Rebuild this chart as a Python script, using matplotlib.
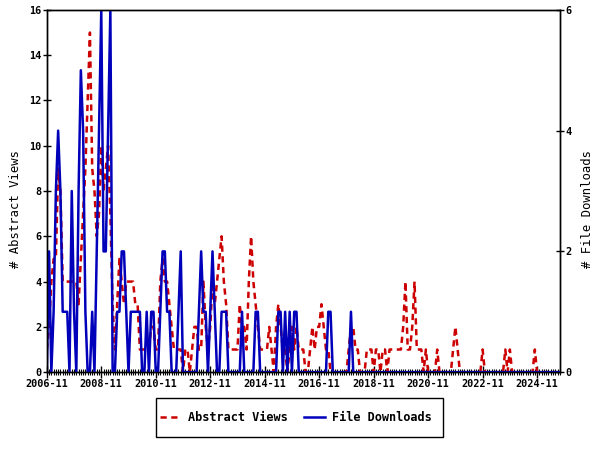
import matplotlib
matplotlib.use("Agg")
import matplotlib.pyplot as plt
from matplotlib.patches import Rectangle
import numpy as np

# Monthly values starting 2006-11
views = [1, 2, 4, 5, 5, 9, 8, 4, 4, 4, 4, 4, 4, 4, 3, 5, 7, 9, 12, 15,
         9, 8, 6, 7, 10, 8, 9, 10, 7, 3, 1, 3, 5, 4, 3, 4, 4, 4, 4, 3,
         3, 1, 1, 1, 1, 1, 2, 2, 1, 1, 4, 5, 4, 4, 3, 2, 1, 1, 1, 1,
         0, 1, 1, 0, 1, 2, 2, 1, 1, 4, 2, 1, 2, 4, 3, 4, 5, 6, 4, 3,
         1, 1, 1, 1, 1, 3, 2, 2, 1, 4, 6, 4, 3, 2, 1, 1, 1, 1, 2, 1,
         0, 2, 3, 2, 1, 1, 0, 1, 2, 1, 2, 1, 1, 1, 0, 0, 1, 2, 1, 2,
         2, 3, 2, 1, 1, 0, 0, 0, 0, 0, 0, 0, 0, 1, 2, 2, 1, 1, 0, 0,
         0, 1, 1, 1, 0, 1, 1, 0, 1, 1, 0, 1, 1, 1, 1, 1, 1, 2, 4, 1,
         1, 2, 4, 1, 1, 1, 0, 1, 0, 0, 0, 0, 1, 0, 0, 0, 0, 0, 0, 1,
         2, 1, 0, 0, 0, 0, 0, 0, 0, 0, 0, 0, 1, 0, 0, 0, 0, 0, 0, 0,
         0, 0, 1, 0, 1, 0, 0, 0, 0, 0, 0, 0, 0, 0, 0, 1, 0, 0, 0, 0,
         0, 0, 0, 0, 0, 0, 0]

downloads = [0, 2, 0, 1, 3, 4, 3, 1, 1, 1, 0, 3, 1, 0, 3, 5, 4, 1, 0, 0,
             1, 0, 2, 4, 6, 2, 2, 4, 6, 0, 0, 1, 1, 2, 2, 1, 0, 1, 1, 1,
             1, 1, 0, 0, 1, 0, 1, 1, 0, 0, 1, 2, 2, 1, 1, 0, 0, 0, 1, 2,
             0, 0, 0, 0, 0, 0, 0, 1, 2, 1, 1, 0, 1, 2, 1, 0, 0, 1, 1, 1,
             0, 0, 0, 0, 0, 0, 1, 0, 0, 0, 0, 0, 1, 1, 0, 0, 0, 0, 0, 0,
             0, 0, 1, 1, 0, 1, 0, 1, 0, 1, 1, 0, 0, 0, 0, 0, 0, 0, 0, 0,
             0, 0, 0, 0, 1, 1, 0, 0, 0, 0, 0, 0, 0, 0, 1, 0, 0, 0, 0, 0,
             0, 0, 0, 0, 0, 0, 0, 0, 0, 0, 0, 0, 0, 0, 0, 0, 0, 0, 0, 0,
             0, 0, 0, 0, 0, 0, 0, 0, 0, 0, 0, 0, 0, 0, 0, 0, 0, 0, 0, 0,
             0, 0, 0, 0, 0, 0, 0, 0, 0, 0, 0, 0, 0, 0, 0, 0, 0, 0, 0, 0,
             0, 0, 0, 0, 0, 0, 0, 0, 0, 0, 0, 0, 0, 0, 0, 0, 0, 0, 0, 0,
             0, 0, 0, 0, 0, 0, 0]

tick_labels = ["2006-11", "2008-11", "2010-11", "2012-11", "2014-11",
               "2016-11", "2018-11", "2020-11", "2022-11", "2024-11"]

plt.rcParams['font.family'] = ['DejaVu Sans Mono']
plt.rcParams['font.weight'] = 'bold'

fig = plt.figure(figsize=(6, 4.5), dpi=100)
ax = fig.add_axes([0.078, 0.173, 0.855, 0.805])
ax2 = ax.twinx()

x = np.arange(len(views))
red = '#CC0000'
blue = '#0000BB'

l1, = ax.plot(x, views, color=red, lw=1.8, linestyle=(0, (2.5, 1.8)),
              label='Abstract Views')
l2, = ax2.plot(x, downloads, color=blue, lw=1.8, label='File Downloads')

ax.set_xlim(0, 226)
ax.set_ylim(0, 16)
ax2.set_ylim(0, 6)
ax.set_yticks(range(0, 17, 2))
ax2.set_yticks(range(0, 7, 2))
ax.set_xticks(np.arange(len(tick_labels)) * 24)
ax.set_xticklabels(tick_labels)
ax.set_xticks(np.arange(0, 227, 1), minor=True)

for a in (ax, ax2):
    for s in a.spines.values():
        s.set_linewidth(1.0)
        s.set_color('black')

ax.tick_params(axis='x', which='major', direction='inout', length=8, width=1,
               labelsize=7.3, pad=1)
ax.tick_params(axis='x', which='minor', direction='inout', length=4, width=0.8)
ax.tick_params(axis='y', direction='inout', length=6, width=1, labelsize=7.3, pad=1)
ax2.tick_params(axis='y', direction='inout', length=6, width=1, labelsize=7.3, pad=1)

ax.set_ylabel('# Abstract Views', fontsize=8.8)
ax2.set_ylabel('# File Downloads', fontsize=8.8)
ax.yaxis.set_label_coords(-0.048, 0.45)
ax2.yaxis.set_label_coords(1.042, 0.45)

leg = fig.legend(handles=[l1, l2], loc='center', bbox_to_anchor=(0.493, 0.072),
                 ncol=2, frameon=False, fontsize=8.6,
                 handlelength=1.8, columnspacing=1.3, borderpad=0.3,
                 handletextpad=0.6, borderaxespad=0)
fig.patches.append(Rectangle((0.26, 0.0289), 0.478, 0.0867,
                             transform=fig.transFigure, fill=False,
                             edgecolor='black', linewidth=1.0))

fig.savefig('out.png', dpi=100)
